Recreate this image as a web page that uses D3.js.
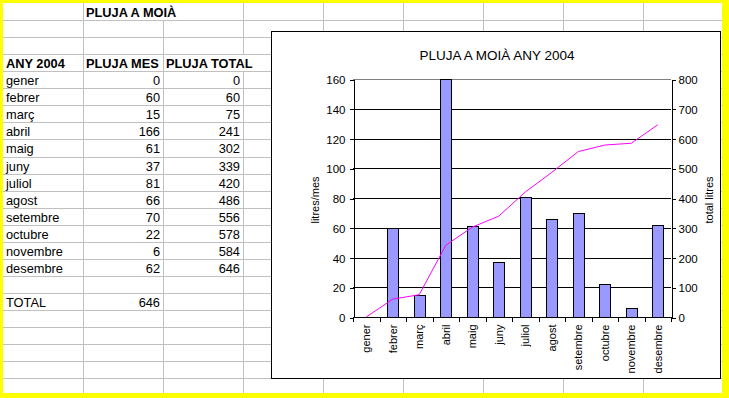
<!DOCTYPE html>
<meta charset="utf-8">
<style>
body { margin: 0; background: #ffff00; }
svg { display: block; font-family: "Liberation Sans", Arial, sans-serif; }
.cell { font-size: 12.8px; fill: #000; }
.bold { font-weight: bold; }
.sheet line { stroke: #c0c0c0; stroke-width: 1; shape-rendering: crispEdges; }
.axis text { font-size: 11.5px; font-family: "Liberation Sans", Arial, sans-serif; }
.axis path, .axis line { stroke: #000; shape-rendering: crispEdges; }
.grid line { stroke: #000; shape-rendering: crispEdges; }
.bar { fill: #9999ff; stroke: #000; stroke-width: 1; shape-rendering: crispEdges; }
.total { fill: none; stroke: #ff00ff; stroke-width: 1; }
</style>
<svg width="729" height="398"></svg>
<script src="https://cdn.jsdelivr.net/npm/d3@7"></script>
<script>
var months = ["gener", "febrer", "març", "abril", "maig", "juny", "juliol", "agost", "setembre", "octubre", "novembre", "desembre"];
var plujaMes = [0, 60, 15, 166, 61, 37, 81, 66, 70, 22, 6, 62];
var plujaTotal = [0, 60, 75, 241, 302, 339, 420, 486, 556, 578, 584, 646];
var totalAny = 646;
var leftTicks = [0, 20, 40, 60, 80, 100, 120, 140, 160];
var rightTicks = [0, 100, 200, 300, 400, 500, 600, 700, 800];

var svg = d3.select("svg");

// sheet area (yellow frame around it)
var sheet = svg.append("g").attr("class", "sheet");
sheet.append("rect").attr("x", 3).attr("y", 3).attr("width", 719).attr("height", 390).attr("fill", "#fff");

var rowH = 17.06, top0 = 3, nRows = 23;
var colX = [3, 83, 163, 243, 323, 403, 483, 563, 643, 722];
function rowY(r) { return top0 + rowH * r; }

// horizontal grid lines
for (var r = 1; r < nRows; r++) {
  var y = Math.round(rowY(r)) + 0.5;
  sheet.append("line").attr("x1", 3).attr("x2", 722).attr("y1", y).attr("y2", y);
}
// vertical grid lines (skip where text overflows)
colX.slice(1, -1).forEach(function(x) {
  var segs = [[3, 393]];
  if (x === 163) segs = [[rowY(1), 393]];
  if (x === 243) segs = [[3, rowY(3)], [rowY(4), 393]];
  segs.forEach(function(s) {
    sheet.append("line").attr("x1", x + 0.5).attr("x2", x + 0.5).attr("y1", s[0]).attr("y2", s[1]);
  });
});

function cell(text, col, row, align, bold) {
  var x = align === "end" ? colX[col + 1] - 3 : colX[col] + 3;
  svg.append("text")
      .attr("class", "cell" + (bold ? " bold" : ""))
      .attr("x", x)
      .attr("y", rowY(row) + rowH / 2 + 1)
      .attr("dy", "0.35em")
      .attr("text-anchor", align)
      .text(text);
}

cell("PLUJA A MOIÀ", 1, 0, "start", true);
cell("ANY 2004", 0, 3, "start", true);
cell("PLUJA MES", 1, 3, "start", true);
cell("PLUJA TOTAL", 2, 3, "start", true);
months.forEach(function(m, i) {
  cell(m, 0, 4 + i, "start", false);
  cell(plujaMes[i], 1, 4 + i, "end", false);
  cell(plujaTotal[i], 2, 4 + i, "end", false);
});
cell("TOTAL", 0, 17, "start", false);
cell(totalAny, 1, 17, "end", false);

// chart object
var chart = svg.append("g");
chart.append("rect")
    .attr("x", 271.5).attr("y", 31.5).attr("width", 449).attr("height", 347)
    .attr("fill", "#fff").attr("stroke", "#000");

chart.append("text")
    .attr("x", 497).attr("y", 55)
    .attr("dy", "0.35em")
    .attr("text-anchor", "middle")
    .style("font-size", "13.5px")
    .text("PLUJA A MOIÀ ANY 2004");

var plot = {left: 353, right: 671, top: 79, bottom: 317};

var x = d3.scaleBand().domain(months).range([plot.left, plot.right]);
var yL = d3.scaleLinear().domain([0, 160]).range([plot.bottom, plot.top]).clamp(true);
var yR = d3.scaleLinear().domain([0, 800]).range([plot.bottom, plot.top]);

// gridlines
chart.append("g").attr("class", "grid")
  .selectAll("line").data(leftTicks.slice(1, -1))
  .enter().append("line")
    .attr("x1", plot.left).attr("x2", plot.right)
    .attr("y1", function(d) { return yL(d) + 0.5; })
    .attr("y2", function(d) { return yL(d) + 0.5; });
chart.append("line")
    .attr("x1", plot.left).attr("x2", plot.right)
    .attr("y1", plot.top + 0.5).attr("y2", plot.top + 0.5)
    .attr("stroke", "#808080").attr("shape-rendering", "crispEdges");

// bars
var bw = x.bandwidth() * 0.4;
chart.selectAll(".bar")
  .data(plujaMes)
  .enter().append("rect")
    .attr("class", "bar")
    .attr("x", function(d, i) { return Math.round(x(months[i]) + (x.bandwidth() - bw) / 2) + 0.5; })
    .attr("y", function(d) { return Math.round(yL(d)) + 0.5; })
    .attr("width", Math.round(bw))
    .attr("height", function(d) { return Math.round(yL(0) - yL(d)); })
    .style("display", function(d) { return d === 0 ? "none" : null; });

// cumulative line
var line = d3.line()
    .x(function(d, i) { return x(months[i]) + x.bandwidth() / 2; })
    .y(function(d) { return yR(d); });
chart.append("path").datum(plujaTotal).attr("class", "total").attr("d", line);

// axes
chart.append("g")
    .attr("class", "axis")
    .attr("transform", "translate(" + (plot.left + 0.5) + ",0.5)")
    .call(d3.axisLeft(yL).tickValues(leftTicks).tickSizeInner(4).tickSizeOuter(0).tickPadding(4))
    .call(function(g) { g.selectAll("text").attr("dy", "0.35em"); });

chart.append("g")
    .attr("class", "axis")
    .attr("transform", "translate(" + (plot.right + 0.5) + ",0.5)")
    .call(d3.axisRight(yR).tickValues(rightTicks).tickSizeInner(4).tickSizeOuter(0).tickPadding(3))
    .call(function(g) { g.selectAll("text").attr("dy", "0.35em"); });

var xAxis = chart.append("g")
    .attr("class", "axis")
    .attr("transform", "translate(0," + (plot.bottom + 0.5) + ")");
xAxis.append("line").attr("x1", plot.left).attr("x2", plot.right + 1);
xAxis.selectAll(".tk")
  .data(d3.range(months.length + 1))
  .enter().append("line")
    .attr("class", "tk")
    .attr("x1", function(i) { return Math.round(plot.left + x.step() * i) + 0.5; })
    .attr("x2", function(i) { return Math.round(plot.left + x.step() * i) + 0.5; })
    .attr("y1", 0).attr("y2", 4);
xAxis.selectAll(".lbl")
  .data(months)
  .enter().append("text")
    .attr("class", "lbl")
    .attr("transform", function(d) { return "translate(" + (x(d) + x.bandwidth() / 2) + ",7) rotate(-90)"; })
    .attr("dy", "0.35em")
    .attr("text-anchor", "end")
    .style("font-size", "11px")
    .text(function(d) { return d; });

// axis titles
chart.append("text")
    .attr("transform", "translate(315,200) rotate(-90)")
    .attr("dy", "0.35em")
    .attr("text-anchor", "middle")
    .style("font-size", "11px")
    .text("litres/mes");
chart.append("text")
    .attr("transform", "translate(709,200) rotate(-90)")
    .attr("dy", "0.35em")
    .attr("text-anchor", "middle")
    .style("font-size", "11px")
    .text("total litres");
</script>
